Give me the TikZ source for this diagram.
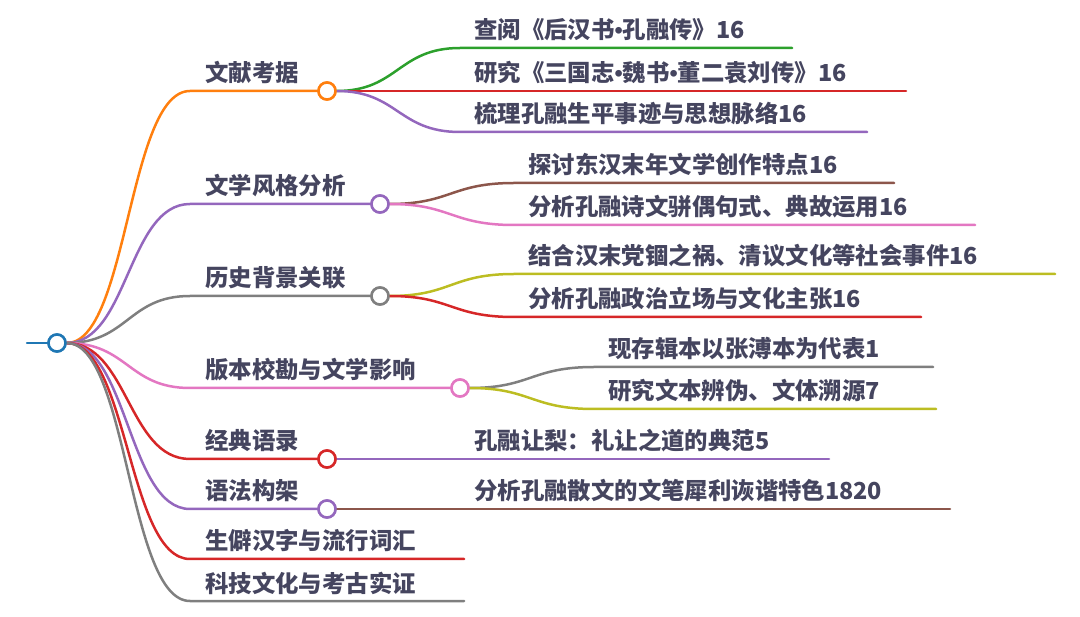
\documentclass[tikz,border=0pt]{standalone}
\usepackage{fontspec}
\setmainfont{Noto Sans CJK SC}
\newfontfamily\lsans{Liberation Sans}
\newcommand\mydot{{\lsans\bfseries •}}
\definecolor{cblue}{HTML}{1F77B4}
\definecolor{corange}{HTML}{FF7F0E}
\definecolor{cgreen}{HTML}{2CA02C}
\definecolor{cred}{HTML}{D62728}
\definecolor{cpurple}{HTML}{9467BD}
\definecolor{cbrown}{HTML}{8C564B}
\definecolor{cpink}{HTML}{E377C2}
\definecolor{cgray}{HTML}{7F7F7F}
\definecolor{colive}{HTML}{BCBD22}
\definecolor{ctext}{HTML}{45455F}
\tikzset{
  lbl/.style={anchor=base west, inner sep=0pt, font=\fontsize{23.4}{26}\selectfont\bfseries, text=ctext},
  knot/.style={circle, draw=#1, fill=white, line width=2.5pt, minimum size=17pt, inner sep=0pt},
  edge/.style={draw=#1, line width=2.5pt, line cap=round},
}
\begin{document}
\begin{tikzpicture}[x=1pt,y=-1pt]
\useasboundingbox (0,0) rectangle (1080,617);
% root
\coordinate (rl) at (27,343);
\node[knot=cblue] (root) at (57,343) {};
% level-1 coordinates
\coordinate (a0) at (190,91);
\coordinate (b0) at (190,204);
\coordinate (c0) at (190,296);
\coordinate (d0) at (190,388);
\coordinate (e0) at (190,459);
\coordinate (f0) at (190,509);
\coordinate (g0) at (190,559);
\coordinate (g1) at (464,559);
\coordinate (h0) at (190,601);
\coordinate (h1) at (464,601);
\node[knot=corange] (a) at (327,91) {};
\node[knot=cpurple] (b) at (380,204) {};
\node[knot=cgray] (c) at (380,296) {};
\node[knot=cpink] (d) at (460,388) {};
\node[knot=cred] (e) at (327,459) {};
\node[knot=cpurple] (f) at (327,509) {};
% level-2 coordinates
\coordinate (a1s) at (460,48);  \coordinate (a1e) at (792,48);
\coordinate (a2s) at (460,91);  \coordinate (a2e) at (906,91);
\coordinate (a3s) at (460,132); \coordinate (a3e) at (867,132);
\coordinate (b1s) at (514,183); \coordinate (b1e) at (894,183);
\coordinate (b2s) at (514,225); \coordinate (b2e) at (975,225);
\coordinate (c1s) at (514,274); \coordinate (c1e) at (1055,274);
\coordinate (c2s) at (514,317); \coordinate (c2e) at (921,317);
\coordinate (d1s) at (594,367); \coordinate (d1e) at (933,367);
\coordinate (d2s) at (594,409); \coordinate (d2e) at (936,409);
\coordinate (e1e) at (829,459);
\coordinate (f1e) at (950,509);
% root stub
\draw[edge=cblue] (rl) -- (root.west);
% level-1 links
\draw[edge=corange] (root.east) .. controls (128,343) and (128,91) .. (a0) -- (a.west);
\draw[edge=cpurple] (root.east) .. controls (128,343) and (128,204) .. (b0) -- (b.west);
\draw[edge=cgray] (root.east) .. controls (128,343) and (128,296) .. (c0) -- (c.west);
\draw[edge=cpink] (root.east) .. controls (128,343) and (128,388) .. (d0) -- (d.west);
\draw[edge=cred] (root.east) .. controls (128,343) and (128,459) .. (e0) -- (e.west);
\draw[edge=cpurple] (root.east) .. controls (128,343) and (128,509) .. (f0) -- (f.west);
\draw[edge=cred] (root.east) .. controls (128,343) and (128,559) .. (g0) -- (g1);
\draw[edge=cgray] (root.east) .. controls (128,343) and (128,601) .. (h0) -- (h1);
% level-2 links
\draw[edge=cgreen] (a.east) .. controls (398,91) and (398,48) .. (a1s) -- (a1e);
\draw[edge=cred] (a.east) -- (a2e);
\draw[edge=cpurple] (a.east) .. controls (398,91) and (398,132) .. (a3s) -- (a3e);
\draw[edge=cbrown] (b.east) .. controls (451,204) and (451,183) .. (b1s) -- (b1e);
\draw[edge=cpink] (b.east) .. controls (451,204) and (451,225) .. (b2s) -- (b2e);
\draw[edge=colive] (c.east) .. controls (451,296) and (451,274) .. (c1s) -- (c1e);
\draw[edge=cred] (c.east) .. controls (451,296) and (451,317) .. (c2s) -- (c2e);
\draw[edge=cgray] (d.east) .. controls (531,388) and (531,367) .. (d1s) -- (d1e);
\draw[edge=colive] (d.east) .. controls (531,388) and (531,409) .. (d2s) -- (d2e);
\draw[edge=cpurple] (e.east) -- (e1e);
\draw[edge=cbrown] (f.east) -- (f1e);
% redraw circles on top
\node[knot=cblue] at (root) {};
\node[knot=corange] at (a) {};
\node[knot=cpurple] at (b) {};
\node[knot=cgray] at (c) {};
\node[knot=cpink] at (d) {};
\node[knot=cred] at (e) {};
\node[knot=cpurple] at (f) {};
% level-1 labels
\node[lbl] (ta) at (205,82) {文献考据};
\node[lbl] (tb) at (205,195) {文学风格分析};
\node[lbl] (tc) at (205,287) {历史背景关联};
\node[lbl] (td) at (205,379) {版本校勘与文学影响};
\node[lbl] (te) at (205,450) {经典语录};
\node[lbl] (tf) at (205,500) {语法构架};
\node[lbl] (tg) at (205,550) {生僻汉字与流行词汇};
\node[lbl] (th) at (205,592) {科技文化与考古实证};
% level-2 labels
\node[lbl] (ta1) at (474,39) {查阅《后汉书\mydot 孔融传》16};
\node[lbl] (ta2) at (474,82) {研究《三国志\mydot 魏书\mydot 董二袁刘传》16};
\node[lbl] (ta3) at (474,123) {梳理孔融生平事迹与思想脉络16};
\node[lbl] (tb1) at (528,174) {探讨东汉末年文学创作特点16};
\node[lbl] (tb2) at (528,216) {分析孔融诗文骈偶句式、典故运用16};
\node[lbl] (tc1) at (528,265) {结合汉末党锢之祸、清议文化等社会事件16};
\node[lbl] (tc2) at (528,308) {分析孔融政治立场与文化主张16};
\node[lbl] (td1) at (608,358) {现存辑本以张溥本为代表1};
\node[lbl] (td2) at (608,400) {研究文本辨伪、文体溯源7};
\node[lbl] (te1) at (474,450) {孔融让梨：礼让之道的典范5};
\node[lbl] (tf1) at (474,500) {分析孔融散文的文笔犀利诙谐特色1820};
\end{tikzpicture}
\end{document}
